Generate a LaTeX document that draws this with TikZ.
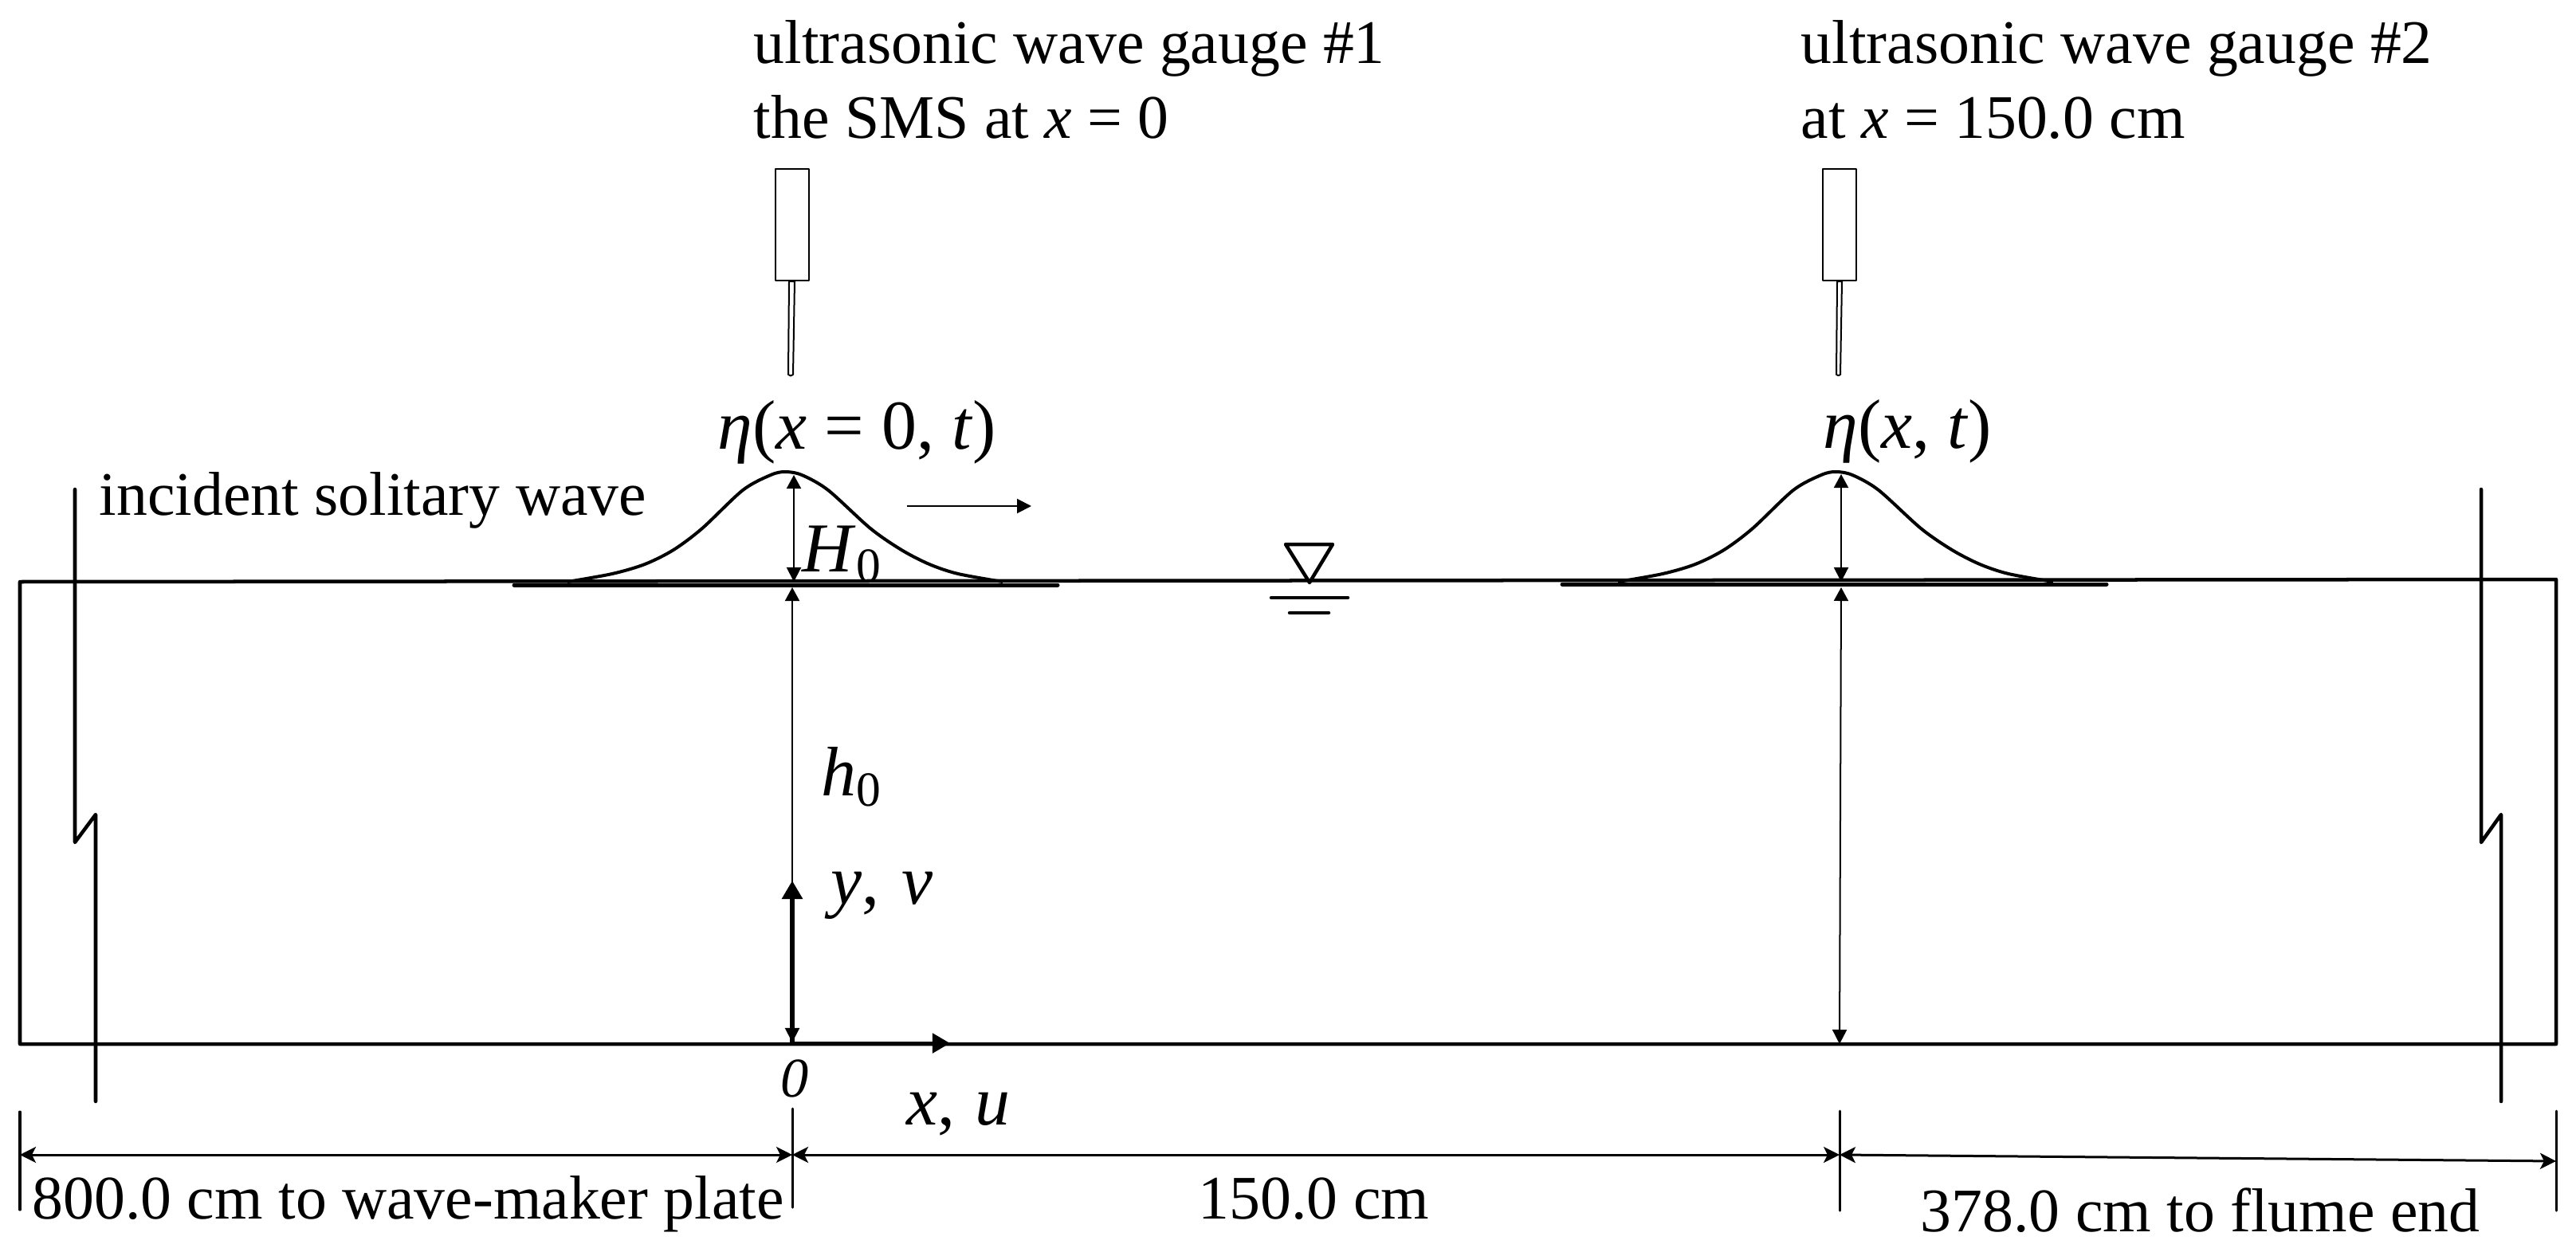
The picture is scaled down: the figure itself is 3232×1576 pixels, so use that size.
\documentclass[tikz,border=0pt]{standalone}
\usepackage{fontspec}
\setmainfont{Liberation Serif}
\usetikzlibrary{arrows.meta}
\tikzset{
	flume/.style={line width=0.045cm, line cap=round, line join=round},
	thinline/.style={line width=0.02cm},
	dimline/.style={line width=0.03cm, {Stealth[length=0.2cm,width=0.2cm,inset=0.05cm]}-{Stealth[length=0.2cm,width=0.2cm,inset=0.05cm]}},
	heightline/.style={thinline, {Triangle[length=0.17cm,width=0.18cm]}-{Triangle[length=0.18cm,width=0.18cm]}},
	txt/.style={inner sep=0pt, anchor=base west, font=\fontsize{22.1}{26}\selectfont},
	bigtxt/.style={inner sep=0pt, anchor=base west, font=\fontsize{25}{30}\selectfont}
}
\def\gauge(#1:#2:#3:#4:#5:#6){% \gauge(box left:box right:stem top left:stem top right:stem bottom left:stem bottom right)
\draw[line width=0.02cm, line join=round] (#1,212) rectangle (#2,352);
\draw[line width=0.02cm, line join=round] (#3,353) -- (#5,470) to[bend right=60] (#6,470) -- (#4,353) -- cycle
}
\def\solwave(#1){% \solwave(shift along x)
\draw[line width=0.04cm, shift={(#1,0)}] plot [smooth, tension=0.5] coordinates {(712,730) (768,720) (809,708) (845,690) (881,663) (932,615) (967,596) (985,592) (1006,596) (1039,615) (1092,663) (1131,690) (1166,708) (1202,720) (1258,730)}
}

\begin{document}
\begin{tikzpicture}[x=0.01cm,y=-0.01cm]
	\useasboundingbox (0,0) rectangle (3232,1576);
	%% flume
	\draw[flume] (25,1310) -- (25,730) -- (3207,727) -- (3207,1310) -- cycle;
	\draw[flume] (94,614) -- (94,1057) -- (120,1022) -- (120,1382);
	\draw[flume] (3113,614) -- (3113,1057) -- (3138,1022) -- (3138,1382);
	%% still water level
	\draw[flume] (1613,683) -- (1672,683) -- (1643,731) -- cycle;
	\draw[flume] (1595,750) -- (1691,750);
	\draw[flume] (1618,769) -- (1667,769);
	%% gauges
	\gauge(973:1015:990:997:989:995);
	\gauge(2287:2329:2305:2311:2304:2309);
	\node[txt] (gaugeonea) at (945,80) {ultrasonic wave gauge \#1};
	\node[txt] (gaugeoneb) at (945,174) {the SMS at \textit{x} = 0};
	\node[txt] (gaugetwoa) at (2259,80) {ultrasonic wave gauge \#2};
	\node[txt] (gaugetwob) at (2259,174) {at \textit{x} = 150.0 cm};
	%% waves
	\solwave(0);
	\solwave(1318);
	\draw[flume, line width=0.05cm] (645,734) -- (1327,734);
	\draw[flume, line width=0.05cm] (1960,733) -- (2643,733);
	\node[bigtxt] (etaone) at (900,563) {\textit{η}(\textit{x} = 0, \textit{t})};
	\node[bigtxt] (etatwo) at (2287,562) {\textit{η}(\textit{x}, \textit{t})};
	\node[txt] (incident) at (124,646) {incident solitary wave};
	\draw[line width=0.02cm, -{Triangle[length=0.18cm,width=0.18cm]}] (1138,635) -- (1294,635);
	%% heights
	\draw[heightline] (996,596) -- (996,730);
	\draw[heightline] (2310,595) -- (2310,730);
	\draw[heightline] (994,737) -- (994,1308);
	\draw[heightline] (2310,737) -- (2308,1310);
	\node[bigtxt] (Hzero) at (1006,717) {\textit{H}\textsubscript{0}};
	\node[bigtxt] (hzero) at (1030,998) {\textit{h}\textsubscript{0}};
	%% axes
	\coordinate (origin) at (994,1309);
	\draw[line width=0.06cm, -{Triangle[length=0.23cm,width=0.25cm]}] (origin) -- (994,1105);
	\draw[line width=0.05cm, -{Triangle[length=0.22cm,width=0.24cm]}] (origin) -- (1192,1309);
	\node[bigtxt] (yv) at (1042,1134) {\textit{y}, \hspace{0.06cm}\textit{v}};
	\node[bigtxt] (xu) at (1137,1411) {\textit{x}, \hspace{0.03cm}\textit{u}};
	\node[inner sep=0pt, anchor=base west, font=\fontsize{20}{24}\selectfont\itshape] (zero) at (979,1376) {0};
	%% dimensions
	\draw[flume, line width=0.03cm] (25,1395) -- (25,1518);
	\draw[flume, line width=0.03cm] (994,1391) -- (994,1515);
	\draw[flume, line width=0.03cm] (2308,1394) -- (2308,1519);
	\draw[flume, line width=0.03cm] (3207,1394) -- (3207,1519);
	\coordinate (dima) at (25,1449);
	\coordinate (dimb) at (994,1449);
	\coordinate (dimc) at (2308,1449);
	\coordinate (dimd) at (3207,1457);
	\draw[dimline] (dima) -- (dimb);
	\draw[dimline] (dimb) -- (dimc);
	\draw[dimline] (dimc) -- (dimd);
	\node[txt] (makerlen) at (40,1529) {800.0 cm to wave-maker plate};
	\node[txt] (gaugelen) at (1503,1529) {150.0 cm};
	\node[txt] (endlen) at (2409,1545) {378.0 cm to flume end};
\end{tikzpicture}
\end{document}
